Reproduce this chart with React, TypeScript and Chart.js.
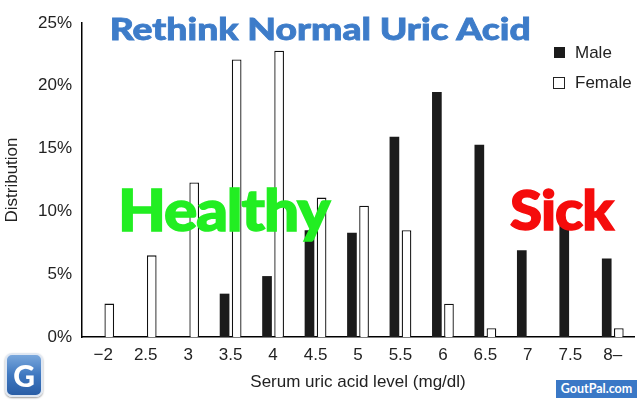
import React, { useEffect, useRef } from "react";
import { Chart, registerables } from "chart.js";

Chart.register(...registerables);

const categories = ["−2", "2.5", "3", "3.5", "4", "4.5", "5", "5.5", "6", "6.5", "7", "7.5", "8–"];
const maleValues = [0, 0, 0, 3.45, 4.85, 8.5, 8.3, 15.95, 19.5, 15.3, 6.9, 9.0, 6.25];
const femaleValues = [2.66, 6.5, 12.3, 22.1, 22.8, 11.1, 10.45, 8.5, 2.65, 0.7, 0, 0, 0.7];
const yTicks = [0, 5, 10, 15, 20, 25];

const seriesNames = ["Male", "Female"];
const chartTitle = "Rethink Normal Uric Acid";
const xTitle = "Serum uric acid level (mg/dl)";
const yTitle = "Distribution";

const FONT = "'Liberation Sans', Arial, Helvetica, sans-serif";
const DISPLAY = "Lato, 'Open Sans', sans-serif";

export default function App() {
  const ref = useRef<HTMLCanvasElement | null>(null);

  useEffect(() => {
    if (!ref.current) return;
    const chart = new Chart(ref.current, {
      type: "bar",
      data: {
        labels: categories,
        datasets: [
          {
            label: seriesNames[0],
            data: maleValues,
            backgroundColor: "#1b1b1b",
            borderWidth: 0,
            categoryPercentage: 0.57,
            barPercentage: 0.8,
          },
          {
            label: seriesNames[1],
            data: femaleValues,
            backgroundColor: "#ffffff",
            borderColor: "#111111",
            borderWidth: 1.3,
            categoryPercentage: 0.57,
            barPercentage: 0.8,
          },
        ],
      },
      options: {
        animation: false,
        responsive: false,
        devicePixelRatio: 1,
        layout: { padding: { top: 23, right: 6, left: 0, bottom: 0 } },
        plugins: {
          legend: { display: false },
          tooltip: { enabled: false },
          title: { display: false },
        },
        scales: {
          x: {
            grid: { display: false, drawTicks: false },
            border: { display: true, color: "#000", width: 1.5 },
            ticks: {
              font: { family: FONT, size: 17 },
              color: "#222",
              padding: 8,
              maxRotation: 0,
              autoSkip: false,
            },
            title: {
              display: true,
              text: xTitle,
              font: { family: FONT, size: 17 },
              color: "#222",
              padding: { top: 0, bottom: 7 },
            },
            afterFit: (s: any) => {
              s.height = 63;
            },
          },
          y: {
            min: 0,
            max: 25,
            grid: { display: false, drawTicks: false },
            border: { display: true, color: "#000", width: 1.5 },
            afterBuildTicks: (s: any) => {
              s.ticks = yTicks.map((v) => ({ value: v }));
            },
            ticks: {
              font: { family: FONT, size: 17 },
              color: "#222",
              padding: 10,
              callback: (v: any) => v + "%",
            },
            title: {
              display: true,
              text: yTitle,
              font: { family: FONT, size: 17 },
              color: "#222",
              padding: { top: 2, bottom: 0 },
            },
            afterFit: (s: any) => {
              s.width = 82;
            },
          },
        },
      },
    });
    return () => chart.destroy();
  }, []);

  return (
    <div
      style={{
        position: "absolute",
        left: 0,
        top: 0,
        width: 640,
        height: 400,
        background: "#fff",
        overflow: "hidden",
        fontFamily: FONT,
      }}
    >
      <canvas ref={ref} width={640} height={400} style={{ position: "absolute", left: 0, top: 0 }} />
      <div
        style={{
          position: "absolute",
          left: 0,
          width: 640,
          top: 10,
          textAlign: "center",
          fontFamily: DISPLAY,
          fontWeight: 900,
          fontSize: 31,
          lineHeight: "36px",
          color: "#3d7cc9",
          transform: "scaleX(1.2)",
          transformOrigin: "319px 0",
          WebkitTextStroke: "0.8px #3d7cc9",
        }}
      >
        {chartTitle}
      </div>
      {/* legend */}
      <div style={{ position: "absolute", left: 554, top: 47, width: 11, height: 11, background: "#1b1b1b" }} />
      <div style={{ position: "absolute", left: 575, top: 43, fontSize: 17, color: "#222", lineHeight: "20px" }}>
        {seriesNames[0]}
      </div>
      <div
        style={{
          position: "absolute",
          left: 553,
          top: 77,
          width: 10,
          height: 10,
          background: "#fff",
          border: "1.3px solid #222",
        }}
      />
      <div style={{ position: "absolute", left: 575, top: 73, fontSize: 17, color: "#222", lineHeight: "20px" }}>
        {seriesNames[1]}
      </div>
      {/* annotations */}
      <div
        style={{
          position: "absolute",
          left: 118,
          top: 174,
          fontFamily: DISPLAY,
          fontWeight: 900,
          fontSize: 58,
          lineHeight: "70px",
          color: "#22ee22",
          letterSpacing: -1,
          transform: "scaleX(1.07)",
          transformOrigin: "0 0",
          WebkitTextStroke: "1.5px #22ee22",
        }}
      >
        Healthy
      </div>
      <div
        style={{
          position: "absolute",
          left: 510,
          top: 175,
          fontFamily: DISPLAY,
          fontWeight: 900,
          fontSize: 56,
          lineHeight: "68px",
          color: "#f50c0c",
          letterSpacing: -1,
          transform: "scaleX(1.04)",
          transformOrigin: "0 0",
          WebkitTextStroke: "1.5px #f50c0c",
        }}
      >
        Sick
      </div>
      {/* logos */}
      <div
        style={{
          position: "absolute",
          left: 5,
          top: 353,
          width: 34,
          height: 40,
          borderRadius: 7,
          border: "2px solid #dfe7f2",
          background: "linear-gradient(180deg, #79a7dc 0%, #3f78c0 50%, #2a5ea6 100%)",
          boxShadow: "0 1px 2px rgba(0,0,0,0.4)",
          color: "#fff",
          fontFamily: DISPLAY,
          fontWeight: 900,
          fontSize: 30,
          lineHeight: "40px",
          textAlign: "center",
        }}
      >
        G
      </div>
      <div
        style={{
          position: "absolute",
          left: 556,
          top: 380,
          width: 81,
          height: 18,
          background: "#3a78c6",
          color: "#fff",
          fontFamily: DISPLAY,
          fontWeight: 700,
          fontSize: 12.5,
          lineHeight: "18px",
          textAlign: "center",
        }}
      >
        GoutPal.com
      </div>
    </div>
  );
}
